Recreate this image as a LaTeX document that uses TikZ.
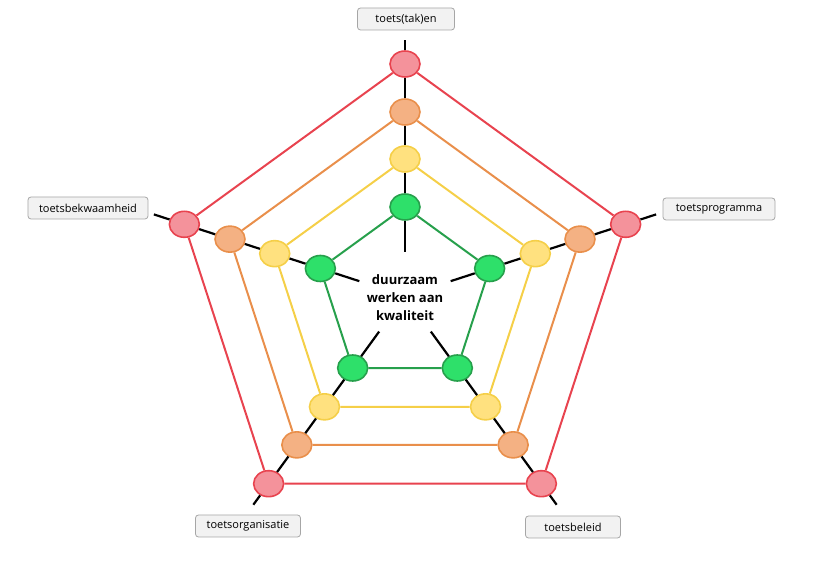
\documentclass[tikz,border=0pt]{standalone}
\usepackage{fontspec}
\setmainfont{Open Sans}
\usepackage{tikz}
\usetikzlibrary{shapes.geometric}

\definecolor{redfill}{HTML}{F4929B}
\definecolor{redline}{HTML}{E8434F}
\definecolor{orangefill}{HTML}{F4B183}
\definecolor{orangeline}{HTML}{E98F4B}
\definecolor{yellowfill}{HTML}{FFE17F}
\definecolor{yellowline}{HTML}{F5CF48}
\definecolor{greenfill}{HTML}{2EE06A}
\definecolor{greenline}{HTML}{27A04C}
\definecolor{boxfill}{HTML}{F2F2F2}
\definecolor{boxline}{HTML}{A6A6A6}

\begin{document}
\begin{tikzpicture}[x=1pt,y=1pt,
    dot/.style={ellipse,draw,line width=1.6pt,minimum width=30pt,minimum height=26pt,inner sep=0pt},
    reddot/.style={dot,fill=redfill,draw=redline},
    orangedot/.style={dot,fill=orangefill,draw=orangeline},
    yellowdot/.style={dot,fill=yellowfill,draw=yellowline},
    greendot/.style={dot,fill=greenfill,draw=greenline},
    labelbox/.style={rectangle,rounded corners=3pt,draw=boxline,fill=boxfill,line width=0.8pt,
        minimum height=22pt,inner xsep=4pt,font=\fontsize{11}{13}\selectfont},
    spoke/.style={line width=2.2pt,black},
    ring/.style={line width=2pt}]
    \useasboundingbox (-405,-268) rectangle (425,296);

    % centre
    \node[align=center,font=\fontsize{13}{18}\selectfont\bfseries] (kern) at (0,-2)
        {duurzaam\\werken aan\\kwaliteit};

    % ends of the spokes
    \coordinate (in1) at (90:44);
    \coordinate (in2) at (18:48);
    \coordinate (in3) at (-54:44);
    \coordinate (in4) at (-126:44);
    \coordinate (in5) at (162:48);
    \coordinate (out1) at (90:256);
    \coordinate (out2) at (18:264);
    \coordinate (out3) at (-54:258);
    \coordinate (out4) at (-126:258);
    \coordinate (out5) at (162:264);

    % green ring
    \node[greendot] (g1) at (90:89) {};
    \node[greendot] (g2) at (18:89) {};
    \node[greendot] (g3) at (-54:89) {};
    \node[greendot] (g4) at (-126:89) {};
    \node[greendot] (g5) at (162:89) {};
    % yellow ring
    \node[yellowdot] (y1) at (90:137) {};
    \node[yellowdot] (y2) at (18:137) {};
    \node[yellowdot] (y3) at (-54:137) {};
    \node[yellowdot] (y4) at (-126:137) {};
    \node[yellowdot] (y5) at (162:137) {};
    % orange ring
    \node[orangedot] (o1) at (90:184) {};
    \node[orangedot] (o2) at (18:184) {};
    \node[orangedot] (o3) at (-54:184) {};
    \node[orangedot] (o4) at (-126:184) {};
    \node[orangedot] (o5) at (162:184) {};
    % red ring
    \node[reddot] (r1) at (90:232) {};
    \node[reddot] (r2) at (18:232) {};
    \node[reddot] (r3) at (-54:232) {};
    \node[reddot] (r4) at (-126:232) {};
    \node[reddot] (r5) at (162:232) {};

    % labels
    \node[labelbox,minimum width=97pt] (takken) at (1,277) {toets(tak)en};
    \node[labelbox,minimum width=112pt] (programma) at (314,87) {toetsprogramma};
    \node[labelbox,minimum width=95pt] (beleid) at (168,-231) {toetsbeleid};
    \node[labelbox,minimum width=105pt] (organisatie) at (-157,-230) {toetsorganisatie};
    \node[labelbox,minimum width=120pt] (bekwaamheid) at (-317,88) {toetsbekwaamheid};

    % spokes
    \draw[spoke] (in1) -- (g1) -- (y1) -- (o1) -- (r1) -- (out1);
    \draw[spoke] (in2) -- (g2) -- (y2) -- (o2) -- (r2) -- (out2);
    \draw[spoke] (in3) -- (g3) -- (y3) -- (o3) -- (r3) -- (out3);
    \draw[spoke] (in4) -- (g4) -- (y4) -- (o4) -- (r4) -- (out4);
    \draw[spoke] (in5) -- (g5) -- (y5) -- (o5) -- (r5) -- (out5);

    % rings
    \draw[ring,greenline] (g1) -- (g2) -- (g3) -- (g4) -- (g5) -- (g1);
    \draw[ring,yellowline] (y1) -- (y2) -- (y3) -- (y4) -- (y5) -- (y1);
    \draw[ring,orangeline] (o1) -- (o2) -- (o3) -- (o4) -- (o5) -- (o1);
    \draw[ring,redline] (r1) -- (r2) -- (r3) -- (r4) -- (r5) -- (r1);
\end{tikzpicture}
\end{document}
